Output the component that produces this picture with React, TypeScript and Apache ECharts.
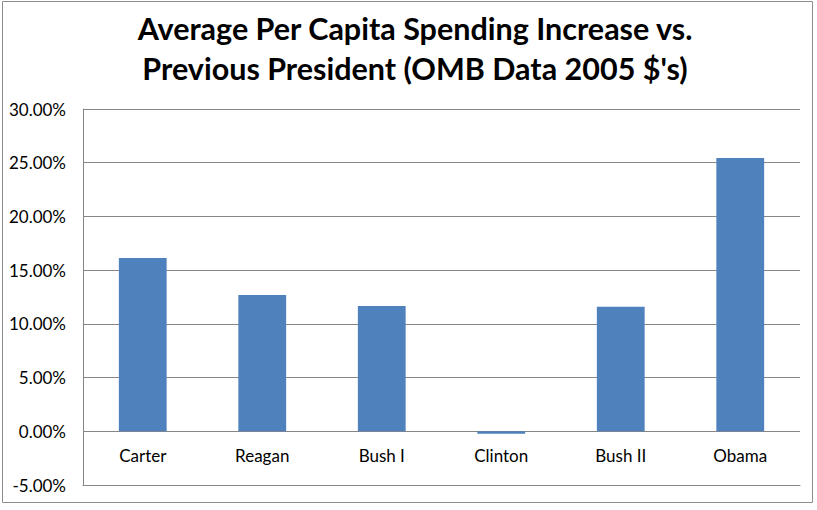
import React, { useEffect, useRef } from "react";
import * as echarts from "echarts";

const categories = ["Carter", "Reagan", "Bush I", "Clinton", "Bush II", "Obama"];
const values = [16.14, 12.69, 11.67, -0.22, 11.6, 25.45];
const titleLines = ["Average Per Capita Spending Increase vs.", "Previous President (OMB Data 2005 $'s)"];

export default function App() {
  const ref = useRef<HTMLDivElement>(null);
  useEffect(() => {
    document.body.style.margin = "0";
    const chart = echarts.init(ref.current!, null, { renderer: "svg" });
    const font = "Lato, 'Open Sans', sans-serif";
    chart.setOption({
      animation: false,
      backgroundColor: "#ffffff",
      title: {
        text: titleLines.join("\n"),
        left: 410,
        textAlign: "center",
        top: 3,
        textStyle: {
          fontFamily: font,
          fontWeight: "bold",
          fontSize: 30.5,
          lineHeight: 40,
          color: "#000000",
        },
      },
      graphic: [
        {
          type: "rect",
          shape: { x: 2.5, y: 1.5, width: 810, height: 501 },
          style: { fill: "none", stroke: "#8c8c8c", lineWidth: 1 },
          silent: true,
        },
      ],
      grid: { left: 83, right: 17, top: 109, bottom: 25, outerBoundsMode: "none", containLabel: false },
      xAxis: {
        type: "category",
        data: categories,
        axisLine: { onZero: false, lineStyle: { color: "#868686", width: 1 } },
        axisTick: { show: false },
        axisLabel: { fontFamily: font, fontSize: 17, color: "#000000", margin: -38 },
      },
      yAxis: {
        type: "value",
        min: -5,
        max: 30,
        interval: 5,
        axisLine: { show: true, lineStyle: { color: "#868686", width: 1 } },
        axisTick: { show: false },
        splitLine: { lineStyle: { color: "#868686", width: 1 } },
        axisLabel: {
          fontFamily: font,
          fontSize: 17,
          color: "#000000",
          margin: 17,
          formatter: (v: number) => v.toFixed(2) + "%",
        },
      },
      series: [
        {
          type: "bar",
          data: values,
          barWidth: "40%",
          itemStyle: { color: "#4f81bd" },
        },
      ],
    });
    return () => chart.dispose();
  }, []);
  return <div ref={ref} style={{ width: 817, height: 510 }} />;
}
